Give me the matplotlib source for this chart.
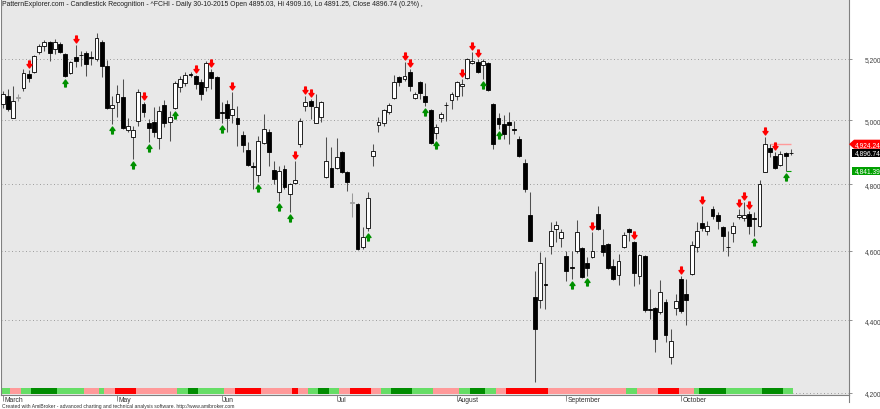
import matplotlib
matplotlib.use("Agg")
import matplotlib.pyplot as plt
import matplotlib.transforms as mtransforms
import matplotlib.ticker as mticker
from matplotlib.path import Path
from matplotlib.patches import Rectangle, Polygon
from matplotlib.lines import Line2D

plt.rcParams['font.family'] = ['Liberation Sans', 'DejaVu Sans']

# ---------------- data (^FCHI daily, 30 Mar 2015 .. 30 Oct 2015) ----------------
opens = [5052, 5077, 5009, 5071, 5104, 5151, 5157, 5223, 5243, 5257,
         5233, 5250, 5217, 5154, 5207, 5214, 5220, 5205, 5200, 5257,
         5177, 5039, 5058, 5075, 4969, 4947, 4999, 5052, 4990, 4996,
         4944, 5049, 4996, 5039, 5107, 5121, 5149, 5144, 5124, 5107,
         5157, 5141, 5026, 5052, 5016, 5006, 4953, 4906, 4855, 4829,
         4928, 4962, 4844, 4776, 4847, 4770, 4803, 4925, 5046, 5061,
         4993, 5012, 4822, 4850, 4850, 4900, 4838, 4745, 4740, 4611,
         4667, 4888, 4984, 4993, 5026, 5071, 5141, 5134, 5157, 5071,
         5124, 5077, 5032, 4959, 5006, 5048, 5065, 5077, 5112, 5137,
         5187, 5190, 5180, 5187, 5052, 5006, 4987, 4996, 4972, 4941,
         4866, 4706, 4466, 4457, 4502, 4614, 4664, 4638, 4585, 4553,
         4599, 4608, 4564, 4582, 4709, 4617, 4620, 4556, 4530, 4611,
         4664, 4626, 4527, 4585, 4432, 4435, 4423, 4452, 4298, 4435,
         4518, 4475, 4533, 4611, 4682, 4658, 4724, 4706, 4670, 4612,
         4652, 4700, 4697, 4709, 4698, 4673, 4838, 4913, 4888, 4860,
         4897, 4895.03]
highs = [5095, 5101, 5111, 5084, 5167, 5163, 5213, 5250, 5263, 5260,
         5267, 5257, 5220, 5193, 5247, 5226, 5226, 5226, 5288, 5262,
         5195, 5077, 5114, 5134, 5009, 4981, 5101, 5058, 5003, 5042,
         5046, 5065, 5029, 5128, 5144, 5157, 5157, 5148, 5134, 5193,
         5167, 5144, 5058, 5065, 5091, 5046, 4966, 4931, 4869, 4950,
         5019, 4972, 4872, 4856, 4860, 4803, 4872, 5009, 5077, 5068,
         5084, 5061, 4947, 4916, 4944, 4903, 4841, 4772, 4743, 4671,
         4776, 4925, 5012, 5036, 5055, 5148, 5144, 5190, 5167, 5091,
         5128, 5121, 5036, 4987, 5026, 5058, 5091, 5128, 5134, 5203,
         5223, 5200, 5200, 5190, 5055, 5022, 5016, 5026, 4999, 4950,
         4878, 4776, 4541, 4596, 4582, 4685, 4688, 4664, 4599, 4599,
         4691, 4611, 4582, 4655, 4733, 4664, 4623, 4576, 4591, 4655,
         4667, 4629, 4591, 4588, 4489, 4438, 4515, 4460, 4376, 4475,
         4527, 4518, 4629, 4685, 4733, 4688, 4733, 4715, 4673, 4658,
         4685, 4724, 4745, 4718, 4715, 4813, 4947, 4925, 4900, 4903,
         4900, 4909.16]
lows = [5040, 5029, 5006, 5061, 5094, 5124, 5154, 5217, 5226, 5193,
        5217, 5220, 5141, 5151, 5174, 5177, 5144, 5180, 5193, 5141,
        5036, 4987, 5012, 4972, 4962, 4878, 4981, 5012, 4931, 4947,
        4909, 4978, 4934, 5036, 5091, 5111, 5141, 5101, 5065, 5094,
        5101, 5006, 4993, 4962, 4993, 4919, 4900, 4856, 4785, 4806,
        4925, 4856, 4800, 4749, 4785, 4715, 4800, 4916, 5029, 5003,
        4993, 4996, 4820, 4791, 4847, 4835, 4778, 4700, 4602, 4605,
        4658, 4856, 4962, 4981, 5019, 5068, 5111, 5128, 5094, 5068,
        5068, 5046, 4925, 4941, 4996, 4999, 5036, 5065, 5077, 5134,
        5184, 5154, 5134, 5094, 4909, 4972, 4941, 4925, 4956, 4885,
        4776, 4629, 4230, 4435, 4432, 4591, 4626, 4611, 4512, 4518,
        4593, 4521, 4527, 4579, 4661, 4585, 4547, 4515, 4501, 4608,
        4629, 4498, 4504, 4423, 4404, 4311, 4418, 4339, 4278, 4415,
        4420, 4387, 4530, 4596, 4658, 4646, 4694, 4664, 4599, 4585,
        4626, 4694, 4688, 4649, 4643, 4670, 4838, 4885, 4847, 4856,
        4841.39, 4891.25]
closes = [5084, 5036, 5061, 5074, 5154, 5137, 5210, 5243, 5257, 5220,
          5257, 5223, 5144, 5190, 5193, 5212, 5184, 5203, 5270, 5177,
          5040, 5049, 5084, 4975, 4981, 4969, 5091, 5026, 4975, 4962,
          5029, 4993, 5012, 5121, 5134, 5148, 5146, 5117, 5084, 5187,
          5137, 5009, 5024, 5006, 5036, 4987, 4922, 4860, 4852, 4934,
          4972, 4900, 4816, 4841, 4791, 4800, 4813, 4999, 5058, 5046,
          5042, 5058, 4872, 4791, 4885, 4838, 4806, 4742, 4605, 4641,
          4758, 4903, 4996, 5032, 5049, 5124, 5124, 5144, 5111, 5084,
          5087, 5058, 4928, 4978, 5019, 5050, 5084, 5124, 5116, 5200,
          5193, 5157, 5193, 5097, 4925, 4987, 4956, 4984, 4970, 4888,
          4785, 4629, 4376, 4564, 4500, 4658, 4676, 4655, 4541, 4550,
          4655, 4524, 4550, 4599, 4664, 4596, 4550, 4518, 4570, 4646,
          4656, 4536, 4588, 4429, 4428, 4348, 4481, 4359, 4342, 4455,
          4426, 4457, 4617, 4658, 4667, 4673, 4703, 4688, 4643, 4610,
          4673, 4705, 4706, 4673, 4695, 4800, 4924.24, 4900, 4850, 4894,
          4888, 4896.74]

# trend ribbon, one code per bar: L light green, D dark green, P pink, R red
ribbon = ("LLPPLLDDDDDLLLLLPPPLPPRRRRPPPPPPPPLLDDLLLLLPPRRRRRPPPPPPRPPLLDDLLPP"
          "RRRRPPLLDDDDLLLLPPPPPLLDDDLLPPRRRRRRRRPPPPPPPPPPPPPPPLLPPPPRRRRPPPL"
          "DDDDDLLLLLLLDDDDLL")
ribbon_colors = {'L': '#66DD66', 'D': '#008C00', 'P': '#FF9A9A', 'R': '#FF0000'}

bearish_signal_bars = [5, 14, 27, 37, 40, 44, 56, 58, 59, 77, 78, 88, 90, 91,
                       113, 121, 130, 134, 141, 142, 143, 146, 148]
bullish_signal_bars = [12, 21, 25, 28, 33, 42, 49, 53, 55, 70, 81, 83, 92, 95,
                       109, 112, 144, 150]
neutral_bars = [3, 67]

month_ticks = [0, 22, 42, 64, 87, 108, 130]
month_labels = ['March', 'May', 'Jun', 'Jul', 'August', 'September', 'October']
price_ticks = [4200, 4400, 4600, 4800, 5000, 5200]

resistance = 4924.24
last_close = 4896.74
support = 4841.39

title = ("PatternExplorer.com - Candlestick Recognition - ^FCHI - Daily 30-10-2015 "
         "Open 4895.03, Hi 4909.16, Lo 4891.25, Close 4896.74 (0.2%) ,")
footer = ("Created with AmiBroker - advanced charting and technical analysis software. "
          "http://www.amibroker.com")

# ---------------- figure ----------------
W, H = 880, 410
fig = plt.figure(figsize=(W / 100, H / 100), dpi=100, facecolor='white')
ax = fig.add_axes([1 / W, 14 / H, 848 / W, 396 / H])
ax.set_facecolor('#E8E8E8')
ax.set_yscale('log')

n = len(closes)
xs = list(range(n))

# wicks
wick_cols = ['#9A9A9A' if i in neutral_bars else '#505050' for i in xs]
ax.vlines(xs, lows, highs, colors=wick_cols, linewidth=0.75, zorder=3)

# bodies
bottoms = [min(o, c) for o, c in zip(opens, closes)]
heights = [max(abs(c - o), 0.3) for o, c in zip(opens, closes)]
faces, edges = [], []
for i in xs:
    if i in neutral_bars:
        faces.append('#D8D8D8'); edges.append('#9A9A9A')
    elif closes[i] >= opens[i]:
        faces.append('white'); edges.append('black')
    else:
        faces.append('black'); edges.append('black')
ax.bar(xs, heights, bottom=bottoms, width=0.74, color=faces, edgecolor=edges,
       linewidth=0.6, zorder=4)

# arrows
down = Path([(-0.12, 0.5), (0.12, 0.5), (0.12, 0.0), (0.36, 0.0), (0.0, -0.5),
             (-0.36, 0.0), (-0.12, 0.0), (-0.12, 0.5)], closed=True)
up = Path([(-0.12, -0.5), (0.12, -0.5), (0.12, 0.0), (0.36, 0.0), (0.0, 0.5),
           (-0.36, 0.0), (-0.12, 0.0), (-0.12, -0.5)], closed=True)
t_up = mtransforms.offset_copy(ax.transData, fig=fig, x=0, y=6, units='dots')
t_dn = mtransforms.offset_copy(ax.transData, fig=fig, x=0, y=-6, units='dots')
ax.plot(bearish_signal_bars, [highs[i] for i in bearish_signal_bars], ls='none',
        marker=down, markersize=5, color='#FF0000', mec='#FF0000', transform=t_up, zorder=5)
ax.plot(bullish_signal_bars, [lows[i] for i in bullish_signal_bars], ls='none',
        marker=up, markersize=5, color='#009000', mec='#009000', transform=t_dn, zorder=5)

# level lines
ax.hlines(resistance, n - 5, n - 1, colors='#FF9A9A', linewidth=1.0, zorder=2)
ax.hlines(support, n - 2, n - 1, colors='#00A000', linewidth=0.8, zorder=2)

# ribbon
blend = mtransforms.blended_transform_factory(ax.transData, ax.transAxes)
for i, code in enumerate(ribbon):
    ax.add_patch(Rectangle((i - 0.5, 1 / 396), 1.0, 6 / 396, transform=blend,
                           facecolor=ribbon_colors[code], edgecolor='none', zorder=2))

# limits
ax.set_xlim((1 - 2.6) / 5.22, (849 - 2.6) / 5.22)
ax.set_ylim(4194.6, 5403.3)

# y axis
ax.yaxis.tick_right()
ax.yaxis.set_major_locator(mticker.FixedLocator(price_ticks))
ax.yaxis.set_minor_locator(mticker.NullLocator())
ax.yaxis.set_major_formatter(mticker.FuncFormatter(lambda v, p: f"{v:,.0f}"))
ax.tick_params(axis='y', length=2.5, width=0.6, color='#808080', pad=9,
               labelsize=4.8, labelcolor='#404040')
ax.grid(axis='y', which='major', linestyle=(0, (1, 2.6)), color='#9C9C9C', linewidth=0.7, zorder=1)
ax.set_axisbelow(True)

# x axis
ax.set_xticks(month_ticks)
ax.set_xticklabels([''] * len(month_ticks))
ax.tick_params(axis='x', length=4, width=0.6, color='#808080', pad=0)
t_lab = mtransforms.offset_copy(blend, fig=fig, x=1.5, y=-1.5, units='dots')
for xt, lab in zip(month_ticks, month_labels):
    ax.text(xt, 0, lab, transform=t_lab, ha='left', va='top', fontsize=4.9, color='#303030')

for s in ['top']:
    ax.spines[s].set_visible(False)
for s in ['left', 'right', 'bottom']:
    ax.spines[s].set_color('#808080')
    ax.spines[s].set_linewidth(0.8)

fig.add_artist(Line2D([849 / W, 849 / W], [7 / H, 14 / H], color='#808080', lw=0.8))

# texts
fig.text(2 / W, 1 - 1.5 / H, title, ha='left', va='top', fontsize=4.95, color='#202020')
fig.text(2 / W, 3.5 / H, footer, ha='left', va='center', fontsize=3.65, color='#303030')

# price flags on the right
def ypix(p):
    return ax.transData.transform((0, p))[1]

yc = ypix(resistance)
fig.add_artist(Polygon([(849 / W, yc / H), (854 / W, (yc + 4.5) / H), (880 / W, (yc + 4.5) / H),
                        (880 / W, (yc - 4.5) / H), (854 / W, (yc - 4.5) / H)],
                       closed=True, transform=fig.transFigure, facecolor='#FF0000', edgecolor='none'))
fig.text(855 / W, yc / H, f"{resistance:,.2f}", ha='left', va='center', fontsize=4.8, color='white')

yc = ypix(last_close)
fig.add_artist(Rectangle((852 / W, (yc - 3.8) / H), 28 / W, 7.6 / H, transform=fig.transFigure,
                         facecolor='black', edgecolor='none'))
fig.text(855 / W, yc / H, f"{last_close:,.2f}", ha='left', va='center', fontsize=4.8, color='white')

yc = ypix(support)
fig.add_artist(Rectangle((852 / W, (yc - 3.8) / H), 28 / W, 7.6 / H, transform=fig.transFigure,
                         facecolor='#00A000', edgecolor='none'))
fig.text(855 / W, yc / H, f"{support:,.2f}", ha='left', va='center', fontsize=4.8, color='white')

fig.savefig('out.png', dpi=100, facecolor='white')
